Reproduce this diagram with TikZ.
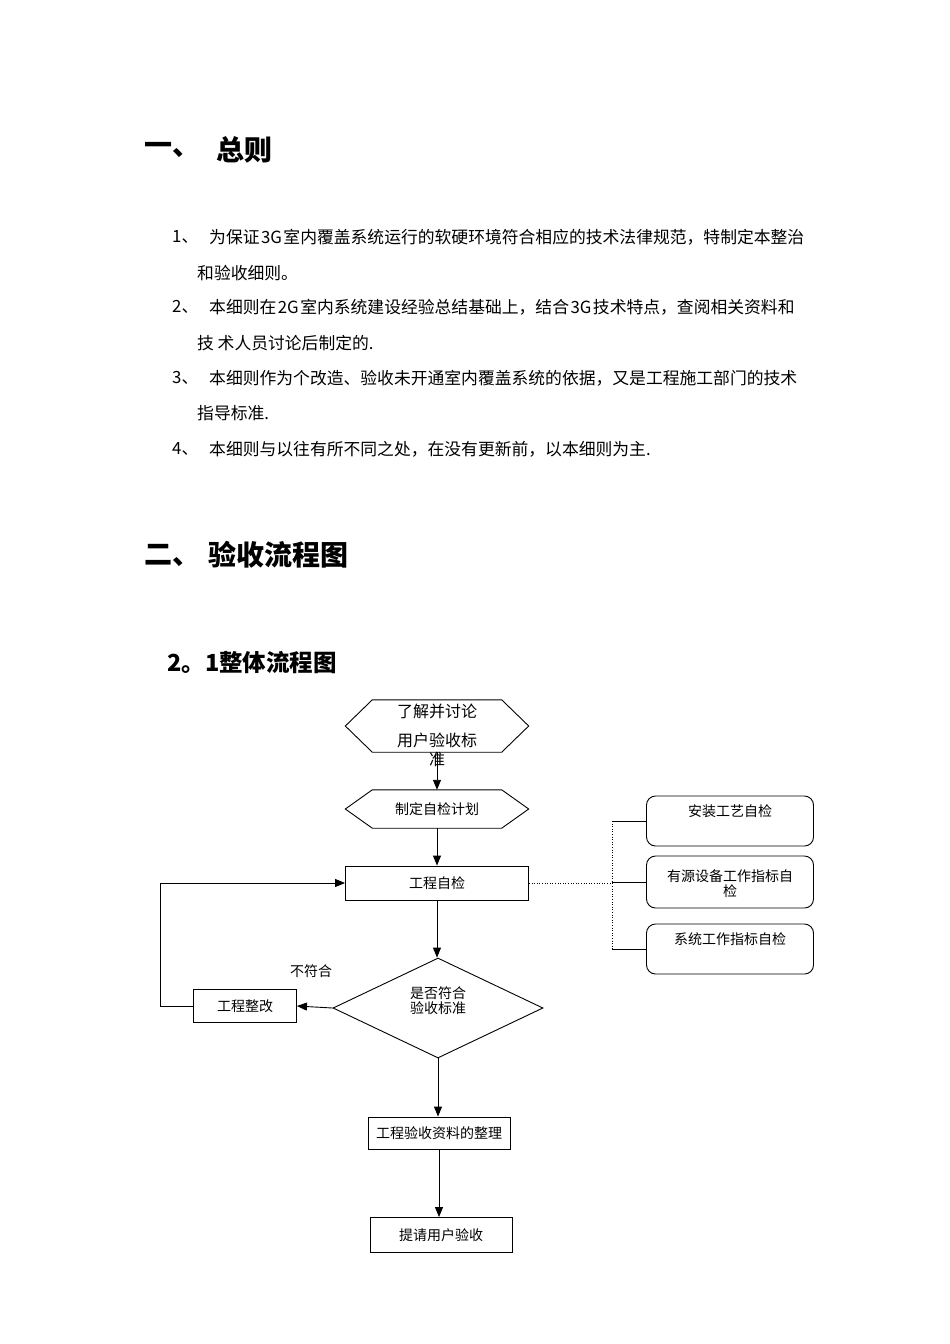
\documentclass[tikz,border=0pt]{standalone}
\usepackage{fontspec}
\setmainfont{Noto Sans CJK SC}
\usetikzlibrary{arrows.meta,shapes.geometric}

\newcommand{\gap}{\hspace{1.5pt}}

\begin{document}
\begin{tikzpicture}[x=1pt,y=-1pt,
  every node/.style={inner sep=0pt},
  head/.style={anchor=west,font=\fontsize{28}{28}\selectfont\bfseries},
  para/.style={anchor=west,font=\fontsize{16.8}{17}\selectfont},
  small/.style={font=\fontsize{14}{15}\selectfont},
  line/.style={line width=0.9pt},
  arr/.style={line,-{Triangle[length=10pt,width=8pt]}},
  box/.style={draw,line,small},
  rbox/.style={draw,line,rounded corners=9pt,minimum width=167pt}]
  \fill[white] (0,0) rectangle (950,1344);
  \useasboundingbox (0,0) rectangle (950,1344);

  % headings and text
  \node[head] (h1a) at (144,150) {一、};
  \node[head] (h1b) at (216,150) {总则};
  \node[para] (n1) at (172,237) {1、};
  \node[para] (t1) at (209,237) {为保证\gap 3G\gap 室内覆盖系统运行的软硬环境符合相应的技术法律规范，特制定本整治};
  \node[para] (c1) at (197,273) {和验收细则。};
  \node[para] (n2) at (172,307) {2、};
  \node[para] (t2) at (209,307) {本细则在\gap 2G\gap 室内系统建设经验总结基础上，结合\gap 3G\gap 技术特点，查阅相关资料和};
  \node[para] (c2) at (197,343) {技 术人员讨论后制定的.};
  \node[para] (n3) at (172,378) {3、};
  \node[para] (t3) at (209,378) {本细则作为个改造、验收未开通室内覆盖系统的依据，又是工程施工部门的技术};
  \node[para] (c3) at (197,413) {指导标准.};
  \node[para] (n4) at (172,449) {4、};
  \node[para] (t4) at (209,449) {本细则与以往有所不同之处，在没有更新前，以本细则为主.};
  \node[head] (h2a) at (144,555) {二、};
  \node[head] (h2b) at (208,555) {验收流程图};
  \node[anchor=west,font=\fontsize{23.5}{24}\selectfont\bfseries] (h21) at (167,663) {2。1整体流程图};

  % flow chart
  \node[minimum width=183pt,minimum height=52pt,
    label={[anchor=north,yshift=-4pt,align=center,font=\fontsize{16}{19}\selectfont]north:了解并讨论\\[10pt]用户验收标\\准}]
    (need) at (437,726) {};
  \draw[line] (need.west) -- ([xshift=27pt]need.north west) -- ([xshift=-27pt]need.north east)
    -- (need.east) -- ([xshift=-27pt]need.south east) -- ([xshift=27pt]need.south west) -- cycle;
  \node[small,minimum width=183pt,minimum height=38pt] (plan) at (437,809) {制定自检计划};
  \draw[line] (plan.west) -- ([xshift=27pt]plan.north west) -- ([xshift=-27pt]plan.north east)
    -- (plan.east) -- ([xshift=-27pt]plan.south east) -- ([xshift=27pt]plan.south west) -- cycle;
  \node[box,minimum width=183pt,minimum height=34pt] (check) at (437,883) {工程自检};
  \node[draw,line,diamond,minimum width=210pt,minimum height=100pt,
    label={[yshift=7pt,align=center,font=\fontsize{14}{15}\selectfont]center:是否符合\\验收标准}]
    (dec) at (438,1008) {};
  \node[box,minimum width=103pt,minimum height=33pt] (fix) at (245,1006) {工程整改};
  \node[small] (no) at (311,971) {不符合};
  \node[box,minimum width=142pt,minimum height=32pt] (tidy) at (439,1133) {工程验收资料的整理};
  \node[box,minimum width=142pt,minimum height=35pt] (ask) at (441,1235) {提请用户验收};

  \node[rbox,minimum height=50pt,
    label={[anchor=north,yshift=-9pt,small]north:安装工艺自检}] (sub1) at (730,821) {};
  \node[rbox,minimum height=52pt,
    label={[anchor=north,yshift=-14pt,align=center,small]north:有源设备工作指标自\\检}] (sub2) at (730,882) {};
  \node[rbox,minimum height=50pt,
    label={[anchor=north,yshift=-9pt,small]north:系统工作指标自检}] (sub3) at (730,949) {};
  \coordinate (bus) at (612,883);

  \draw[arr] (need.south) -- (plan.north);
  \draw[arr] (plan.south) -- (check.north);
  \draw[arr] (check.south) -- (check.south |- dec.north);
  \draw[arr] (dec.west) -- (fix.east);
  \draw[arr] (fix.west) -- ++(-33,0) |- (check.west);
  \draw[arr] (dec.south) -- (dec.south |- tidy.north);
  \draw[arr] (tidy.south) -- (tidy.south |- ask.north);
  \draw[line width=0.6pt,dotted] (check.east) -- (bus);
  \draw[line width=0.6pt,dotted] (bus |- sub1.west) -- (bus |- sub3.west);
  \draw[line] (bus |- sub1.west) -- (sub1.west);
  \draw[line] (bus |- sub2.west) -- (sub2.west);
  \draw[line] (bus |- sub3.west) -- (sub3.west);
\end{tikzpicture}
\end{document}
